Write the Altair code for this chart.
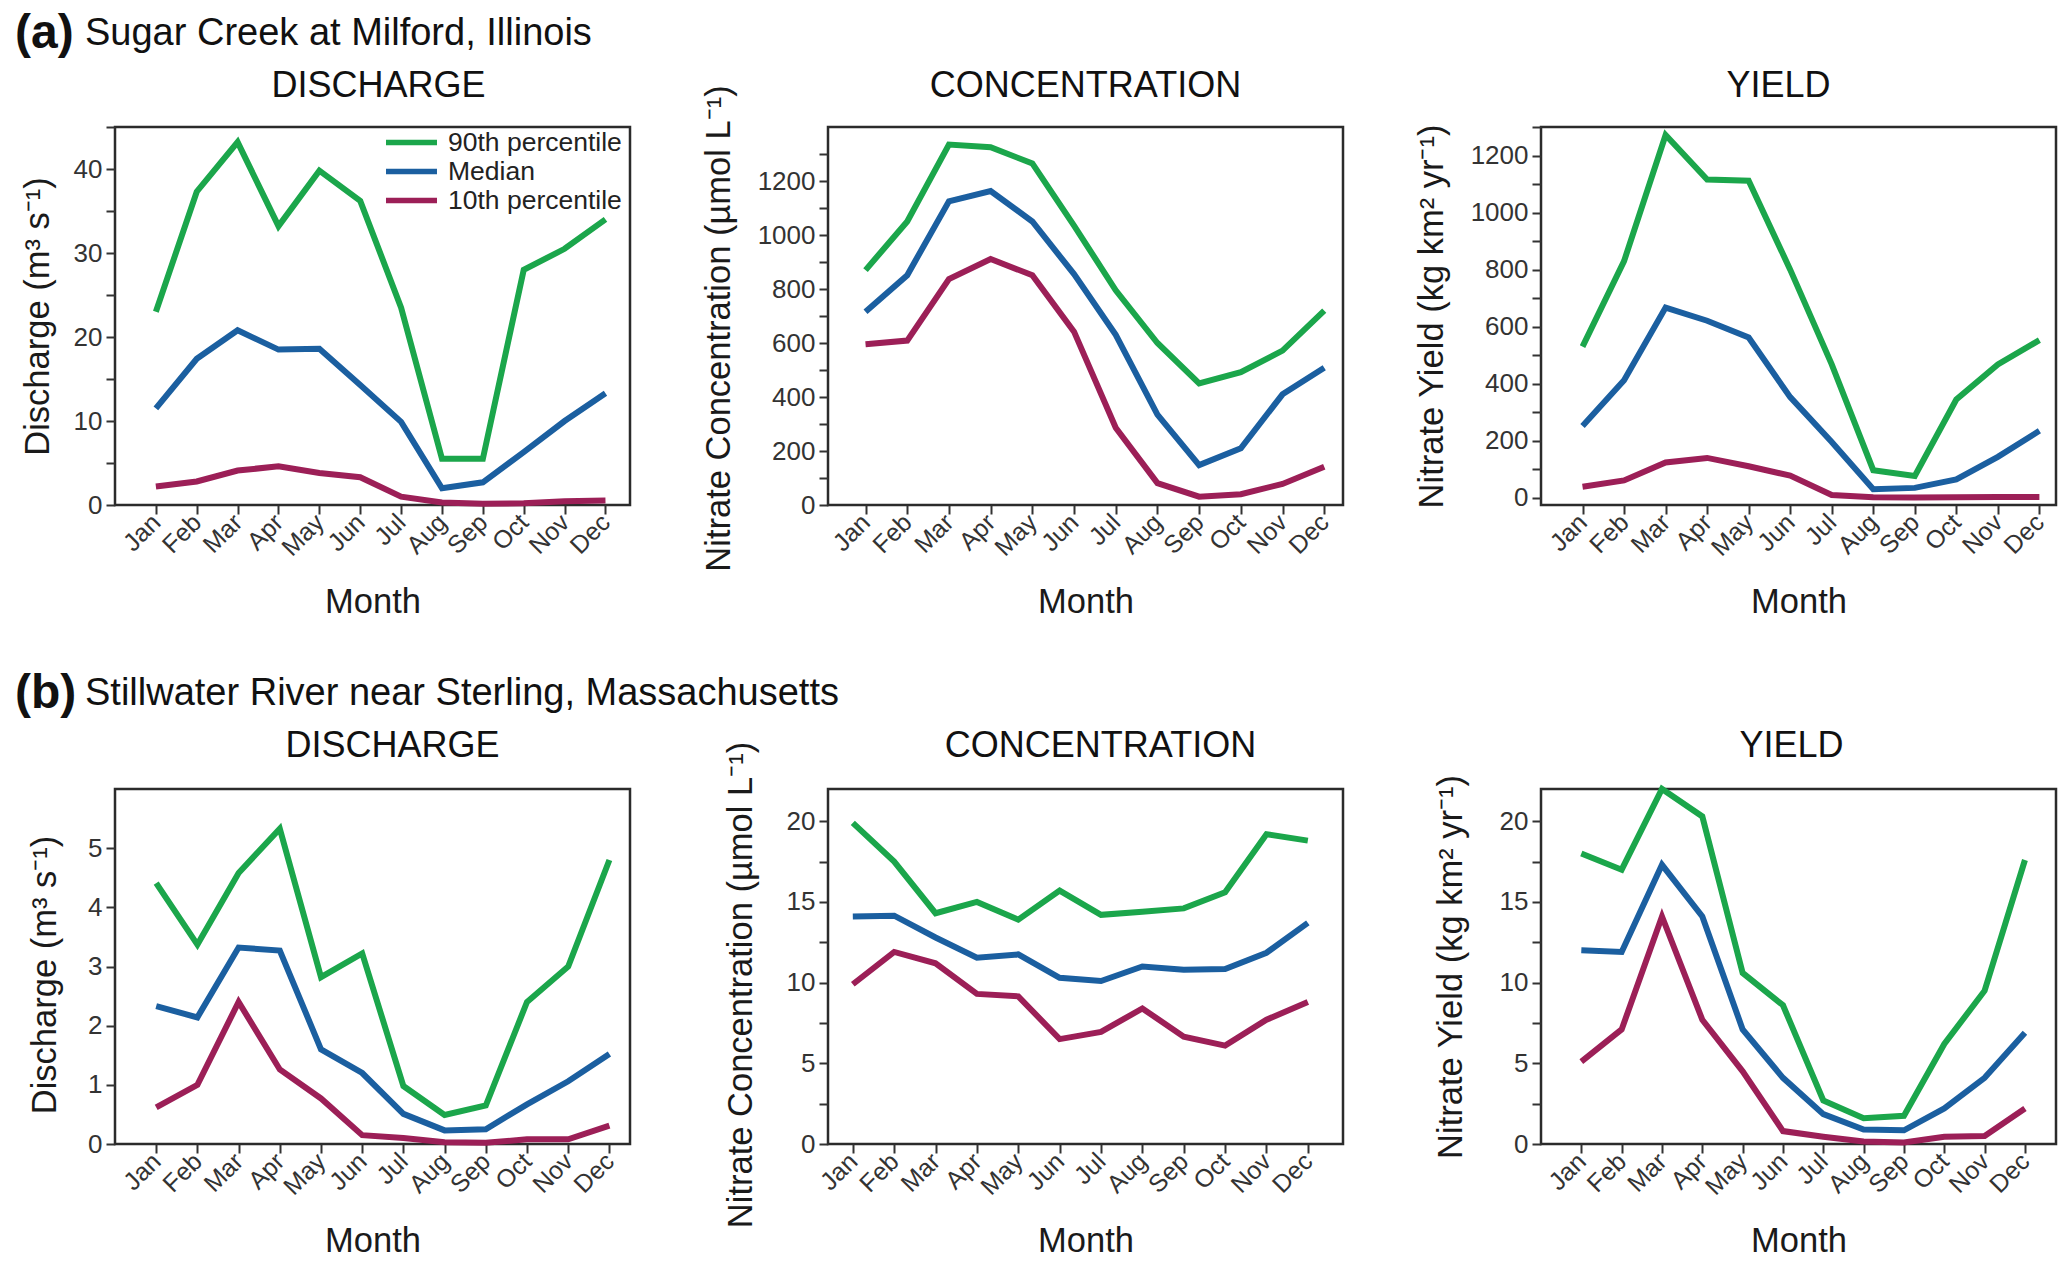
import altair as alt
import pandas as pd

FONT = "Liberation Sans"
MONTHS = ["Jan", "Feb", "Mar", "Apr", "May", "Jun", "Jul", "Aug", "Sep", "Oct", "Nov", "Dec"]
SERIES = ["90th percentile", "Median", "10th percentile"]
COLORS = ["#1BA64B", "#1B5FA0", "#9C1F57"]

ROW_TAGS = ["(a)", "(b)"]
ROW_NAMES = ["Sugar Creek at Milford, Illinois", "Stillwater River near Sterling, Massachusetts"]
PANEL_TITLES = ["DISCHARGE", "CONCENTRATION", "YIELD"]
Y_TITLES = ["Discharge (m\u00b3 s\u207b\u00b9)",
            "Nitrate Concentration (\u00b5mol L\u207b\u00b9)",
            "Nitrate Yield (kg km\u00b2 yr\u207b\u00b9)"]

# (a) Sugar Creek at Milford, Illinois
a_q_p90 = [23.0, 37.3, 43.2, 33.2, 39.8, 36.2, 23.5, 5.5, 5.5, 28.0, 30.5, 34.0]
a_q_med = [11.5, 17.4, 20.8, 18.5, 18.6, 14.3, 9.9, 2.0, 2.7, 6.3, 10.0, 13.3]
a_q_p10 = [2.2, 2.8, 4.1, 4.6, 3.8, 3.3, 1.0, 0.3, 0.15, 0.2, 0.45, 0.55]

a_c_p90 = [870, 1050, 1335, 1325, 1265, 1035, 795, 600, 450, 492, 572, 720]
a_c_med = [716, 851, 1125, 1163, 1050, 855, 630, 335, 148, 210, 410, 508]
a_c_p10 = [595, 609, 837, 911, 851, 642, 286, 81, 31, 40, 78, 142]

a_y_p90 = [530, 830, 1272, 1116, 1112, 800, 468, 97, 77, 345, 468, 553]
a_y_med = [252, 412, 667, 621, 562, 353, 196, 30, 35, 65, 144, 235]
a_y_p10 = [39, 61, 124, 140, 111, 78, 10, 2, 1, 2, 3, 3]

# (b) Stillwater River near Sterling, Massachusetts
b_q_p90 = [4.41, 3.37, 4.58, 5.33, 2.82, 3.22, 0.98, 0.49, 0.65, 2.40, 3.00, 4.80]
b_q_med = [2.33, 2.14, 3.32, 3.27, 1.60, 1.20, 0.51, 0.23, 0.25, 0.67, 1.06, 1.52]
b_q_p10 = [0.62, 1.00, 2.40, 1.26, 0.77, 0.15, 0.10, 0.03, 0.02, 0.08, 0.08, 0.31]

b_c_p90 = [19.9, 17.5, 14.3, 15.0, 13.9, 15.7, 14.2, 14.4, 14.6, 15.6, 19.2, 18.8]
b_c_med = [14.1, 14.15, 12.8, 11.55, 11.75, 10.3, 10.1, 11.0, 10.8, 10.85, 11.85, 13.7]
b_c_p10 = [9.9, 11.9, 11.2, 9.3, 9.15, 6.5, 6.95, 8.4, 6.65, 6.1, 7.7, 8.8]

b_y_p90 = [18.0, 17.0, 22.0, 20.3, 10.6, 8.6, 2.7, 1.6, 1.75, 6.2, 9.5, 17.6]
b_y_med = [12.0, 11.9, 17.3, 14.1, 7.1, 4.1, 1.85, 0.9, 0.85, 2.2, 4.1, 6.9]
b_y_p10 = [5.1, 7.1, 14.1, 7.7, 4.5, 0.8, 0.45, 0.15, 0.1, 0.45, 0.5, 2.2]

MONTH_EXPR = "[" + ",".join("'%s'" % m for m in MONTHS) + "][datum.value - 1]"
W = 515


def ticks(lo, hi, step):
    out = []
    v = lo
    while v <= hi + 1e-9:
        out.append(round(v, 6))
        v += step
    return out


def text_layer(txt, x, y, size, align="left", weight="normal"):
    return alt.Chart(pd.DataFrame({"t": [txt]})).mark_text(
        align=align, baseline="middle", font=FONT, fontSize=size,
        fontWeight=weight, color="#111").encode(
        x=alt.value(x), y=alt.value(y), text="t:N")


def panel(title, ytitle, p90, med, p10, xdom, ydom, yvals, major, ytp, height,
          title_y, title_dx, ytitle_shift=0, legend=False, tag=None, name=None, tag_y=-93):
    rows = []
    for s, vals in zip(SERIES, [p90, med, p10]):
        for i, v in enumerate(vals):
            rows.append({"month": i + 1, "series": s, "value": v})
    df = pd.DataFrame(rows)
    if legend:
        leg = alt.Legend(title=None, orient="none", legendX=281, legendY=0,
                         padding=0, labelFontSize=26.5, labelFont=FONT,
                         labelColor="#222", labelLimit=0,
                         symbolType="M-2,0L2,0", symbolStrokeWidth=5.5,
                         symbolSize=650, rowPadding=-2, labelOffset=21)
    else:
        leg = None
    yaxis_kw = {}
    if ytitle_shift:
        yaxis_kw["titleY"] = height / 2 + ytitle_shift
    lines = alt.Chart(df).mark_line(strokeWidth=6, strokeJoin="miter").encode(
        x=alt.X("month:Q",
                scale=alt.Scale(domain=xdom, nice=False, zero=False),
                axis=alt.Axis(values=list(range(1, 13)), labelExpr=MONTH_EXPR,
                              title="Month", labelAngle=315, labelAlign="right",
                              labelBaseline="middle", labelOverlap=False,
                              labelFontSize=25, titlePadding=25, grid=False,
                              domain=False)),
        y=alt.Y("value:Q",
                scale=alt.Scale(domain=ydom, nice=False, zero=False),
                axis=alt.Axis(values=yvals, format="d",
                              labelExpr="abs(datum.value %% %s) < 1e-6 ? datum.label : ''" % major,
                              title=ytitle, titlePadding=ytp, grid=False,
                              domain=False, labelOverlap=False, **yaxis_kw)),
        color=alt.Color("series:N", scale=alt.Scale(domain=SERIES, range=COLORS),
                        sort=SERIES, legend=leg),
    )
    layers = [lines, text_layer(title, W / 2 + title_dx, title_y, 36, align="center")]
    if tag is not None:
        layers += [text_layer(tag, -100, tag_y, 48, weight="bold"),
                   text_layer(name, -30, tag_y, 38)]
    return alt.layer(*layers).properties(width=W, height=height)


HA = 378
HB = 355
p1 = panel(PANEL_TITLES[0], Y_TITLES[0], a_q_p90, a_q_med, a_q_p10, [0, 12.6], [0, 45],
           ticks(0, 45, 5), 10, 18, HA, -41, 6, legend=True, tag=ROW_TAGS[0], name=ROW_NAMES[0])
p2 = panel(PANEL_TITLES[1], Y_TITLES[1], a_c_p90, a_c_med, a_c_p10, [0.1, 12.45], [0, 1400],
           ticks(0, 1300, 100), 200, 21, HA, -41, 0, ytitle_shift=12)
p3 = panel(PANEL_TITLES[2], Y_TITLES[2], a_y_p90, a_y_med, a_y_p10, [0, 12.4], [-25, 1300],
           ticks(0, 1300, 100), 200, 21, HA, -41, -20)
p4 = panel(PANEL_TITLES[0], Y_TITLES[0], b_q_p90, b_q_med, b_q_p10, [0, 12.5], [0, 6],
           ticks(0, 5.5, 0.5), 1, 25, HB, -43, 20, ytitle_shift=8,
           tag=ROW_TAGS[1], name=ROW_NAMES[1], tag_y=-95)
p5 = panel(PANEL_TITLES[1], Y_TITLES[1], b_c_p90, b_c_med, b_c_p10, [0.4, 12.85], [0, 22],
           ticks(0, 22, 2.5), 5, 28, HB, -43, 15, ytitle_shift=18)
p6 = panel(PANEL_TITLES[2], Y_TITLES[2], b_y_p90, b_y_med, b_y_p10, [0, 12.77], [0, 22],
           ticks(0, 22, 2.5), 5, 31, HB, -43, -7)

chart = alt.concat(p1, p2, p3, p4, p5, p6, columns=3,
                   spacing={"row": 284, "column": 198},
                   bounds="flush", align="each").resolve_legend(
    color="independent"
).properties(
    padding={"left": 13, "top": 8, "right": 4, "bottom": 4},
    background="white",
).configure_view(
    stroke="#2b2b2b", strokeWidth=2.5
).configure_axis(
    labelFont=FONT, titleFont=FONT, labelFontSize=26, titleFontSize=34.5,
    labelColor="#333", titleColor="#1a1a1a", tickColor="#333", tickWidth=2,
    tickSize=9, titleFontWeight="normal", labelPadding=4,
)

chart.save("out.html", embed_options={"renderer": "svg", "actions": False})
